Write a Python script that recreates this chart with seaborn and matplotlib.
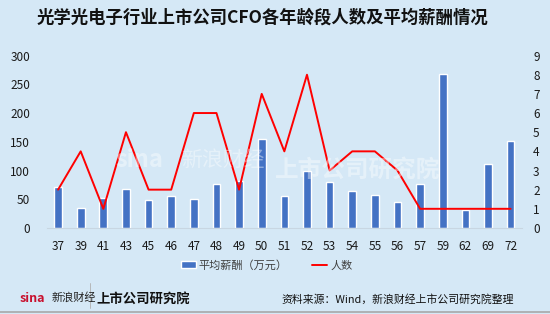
import numpy as np
import pandas as pd
import matplotlib
matplotlib.use("Agg")
import matplotlib.pyplot as plt
import seaborn as sns

ages = ["37", "39", "41", "43", "45", "46", "47", "48", "49", "50", "51",
        "52", "53", "54", "55", "56", "57", "59", "62", "69", "72"]
salary = [72, 34, 53, 68, 49, 55, 50, 76, 82, 155, 56,
          99, 80, 65, 58, 46, 76, 268, 31, 112, 151]
counts = [2, 4, 1, 5, 2, 2, 6, 6, 2, 7, 4,
          8, 3, 4, 4, 3, 1, 1, 1, 1, 1]

title = "光学光电子行业上市公司CFO各年龄段人数及平均薪酬情况"
bar_label = "平均薪酬（万元）"
line_label = "人数"
source = "资料来源：Wind，新浪财经上市公司研究院整理"

sns.set_theme(style="white")
plt.rcParams['font.family'] = ['Noto Sans CJK SC', 'DejaVu Sans']

bg = "#D5E8F6"
bar_color = "#4472C4"
line_color = "#FF0000"

fig = plt.figure(figsize=(5.5, 3.14), dpi=100, facecolor=bg)
ax = fig.add_axes([0.085, 0.274, 0.864, 0.549])
ax.set_facecolor(bg)

df = pd.DataFrame({"age": ages, "salary": salary, "count": counts,
                   "pos": np.arange(len(ages))})

sns.barplot(data=df, x="age", y="salary", order=ages, color=bar_color,
            width=0.34, ax=ax, saturation=1, label=bar_label)
ax.set_xlim(-0.5, len(ages) - 0.5)
ax.set_ylim(0, 300)
ax.set_yticks([0, 50, 100, 150, 200, 250, 300])
ax.set_xlabel("")
ax.set_ylabel("")
for s in ["top", "right", "left"]:
    ax.spines[s].set_visible(False)
ax.spines["bottom"].set_color("#C8D6E2")
ax.spines["bottom"].set_linewidth(0.8)
ax.tick_params(axis="both", length=0, labelsize=8.5, colors="#1a1a1a")
ax.tick_params(axis="y", pad=12)
ax.tick_params(axis="x", pad=9)

ax2 = ax.twinx()
sns.lineplot(data=df, x="pos", y="count", color=line_color, linewidth=1.4,
             ax=ax2, label=line_label, legend=False)
ax2.set_ylim(0, 9)
ax2.set_yticks(range(0, 10))
ax2.set_ylabel("")
ax2.set_xlim(-0.5, len(ages) - 0.5)
for s in ["top", "right", "left", "bottom"]:
    ax2.spines[s].set_visible(False)
ax2.tick_params(axis="y", length=0, labelsize=8.5, colors="#1a1a1a", pad=8)

# watermarks
fig.text(0.21, 0.49, "sina", fontsize=17, color="white", alpha=0.4,
         fontweight="bold", style="italic", ha="left", va="center")
fig.text(0.33, 0.49, "新浪财经", fontsize=15, color="white", alpha=0.4,
         ha="left", va="center", style="italic")
fig.text(0.50, 0.46, "上市公司研究院", fontsize=17, color="white", alpha=0.4,
         fontweight="bold", style="italic", ha="left", va="center")

# title
fig.text(0.477, 0.945, title, fontsize=12.5, fontweight="bold", color="#111111",
         ha="center", va="center")

# legend
h1, l1 = ax.get_legend_handles_labels()
h2, l2 = ax2.get_legend_handles_labels()
ax.legend(h1 + h2, l1 + l2, loc="center", bbox_to_anchor=(0.485, 0.155),
          bbox_transform=fig.transFigure, ncol=2, frameon=False, fontsize=8,
          labelcolor="#404040", handlelength=1.3, handletextpad=0.3,
          columnspacing=2.2, handleheight=0.6)

# footer
fig.text(0.036, 0.05, "sina", fontsize=9, color="#C8102E", fontweight="bold",
         style="italic", ha="left", va="center")
fig.text(0.093, 0.052, "新浪财经", fontsize=8, color="#222222",
         style="italic", ha="left", va="center")
fig.lines.append(plt.Line2D([0.163, 0.163], [0.02, 0.1], transform=fig.transFigure,
                            color="#B0B0B0", linewidth=0.6))
fig.text(0.175, 0.05, "上市公司研究院", fontsize=9.6, color="#111111",
         fontweight="bold", style="italic", ha="left", va="center")
fig.text(0.935, 0.045, source, fontsize=7.8, color="#111111",
         ha="right", va="center")
fig.lines.append(plt.Line2D([0, 1], [0.006, 0.006], transform=fig.transFigure,
                            color="#A8A8A8", linewidth=1.2))

fig.savefig("out.png", dpi=100, facecolor=bg)
